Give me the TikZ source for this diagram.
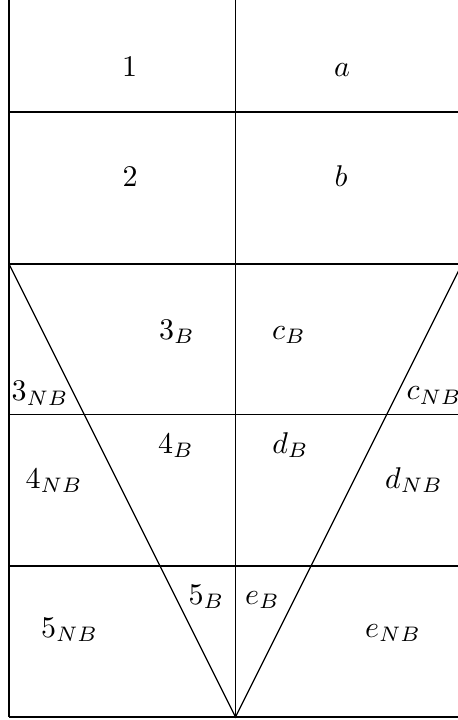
\documentclass[tikz,border=0pt]{standalone}
\begin{document}
\begin{tikzpicture}[x=0.33333pt,y=-0.33333pt,
  gridline/.style={draw=black,line width=0.4pt},
  lbl/.style={anchor=base,inner sep=0pt}]
\useasboundingbox (0,0) rectangle (458,720);
% named corner points
\coordinate (TL) at (9,-2);
\coordinate (BL) at (9,717);
\coordinate (TM) at (235.5,-2);
\coordinate (BM) at (235.5,717);
\coordinate (LV) at (9,264);
\coordinate (RV) at (462,264);
% vertical lines
\draw[gridline] (TL) -- (BL);
\draw[gridline] (TM) -- (BM);
% horizontal lines
\foreach \yy in {112,264,414.5,566,717}
  \draw[gridline] (9,\yy) -- (462,\yy);
% the V shape
\draw[gridline] (LV) -- (BM) -- (RV);
% labels
\node[lbl] (n1)  at (129.5,76) {$1$};
\node[lbl] (na)  at (342,76) {$a$};
\node[lbl] (n2)  at (130,186.5) {$2$};
\node[lbl] (nb)  at (341,186.5) {$b$};
\node[lbl] (n3b) at (177,339) {$3_B$};
\node[lbl] (ncb) at (289,339) {$c_B$};
\node[lbl] (n3nb) at (40,400.5) {$3_{NB}$};
\node[lbl] (ncnb) at (434,399.5) {$c_{NB}$};
\node[lbl] (n4b) at (176,453) {$4_B$};
\node[lbl] (ndb) at (290.5,453) {$d_B$};
\node[lbl] (n4nb) at (54,488) {$4_{NB}$};
\node[lbl] (ndnb) at (414,488) {$d_{NB}$};
\node[lbl] (n5b) at (206.5,604) {$5_B$};
\node[lbl] (neb) at (262.5,604) {$e_B$};
\node[lbl] (n5nb) at (69.5,637) {$5_{NB}$};
\node[lbl] (nenb) at (393,637) {$e_{NB}$};
\end{tikzpicture}
\end{document}
